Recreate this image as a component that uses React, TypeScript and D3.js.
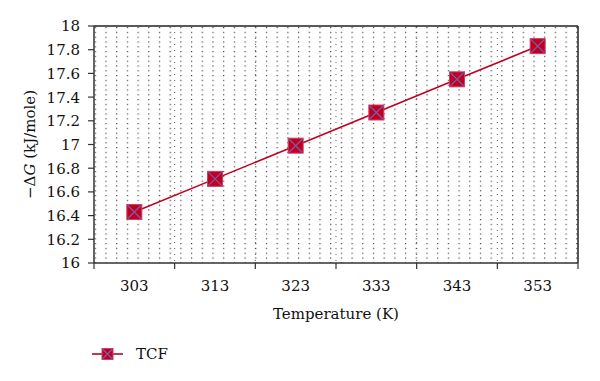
import React from "react";
import * as d3 from "d3";

const categories = ["303", "313", "323", "333", "343", "353"];
const tcfValues = [16.43, 16.71, 16.99, 17.27, 17.55, 17.83];
const yTicks = [16, 16.2, 16.4, 16.6, 16.8, 17, 17.2, 17.4, 17.6, 17.8, 18];
const seriesName = "TCF";

const W = 600;
const H = 381;
const M = { left: 94, right: 22, top: 26, bottom: 118 };

export default function App() {
  const x = d3.scaleBand<string>().domain(categories).range([M.left, W - M.right]).padding(0);
  const y = d3.scaleLinear().domain([16, 18]).range([H - M.bottom, M.top]);
  const line = d3
    .line<number>()
    .x((_, i) => (x(categories[i]) as number) + x.bandwidth() / 2)
    .y((d) => y(d));
  const fontStyle = { fontFamily: '"DejaVu Serif", serif', fontSize: "15px" };
  const red = "#C00020";
  const x0 = M.left;
  const x1 = W - M.right;
  const y0 = H - M.bottom;
  const y1 = M.top;
  const boundaries = [...categories.map((c) => x(c) as number), x1];

  const marker = (cx: number, cy: number, s: number, key?: any) => (
    <g key={key}>
      <rect x={cx - s / 2} y={cy - s / 2} width={s} height={s} fill={red} stroke="#C8406A" strokeWidth={1} />
      <line x1={cx - s / 2 + 1} y1={cy - s / 2 + 1} x2={cx + s / 2 - 1} y2={cy + s / 2 - 1} stroke="#7A5AA8" strokeWidth={1.3} />
      <line x1={cx - s / 2 + 1} y1={cy + s / 2 - 1} x2={cx + s / 2 - 1} y2={cy - s / 2 + 1} stroke="#7A5AA8" strokeWidth={1.3} />
    </g>
  );

  return (
    <svg width={W} height={H} style={{ position: "absolute", left: 0, top: 0, background: "#fff" }}>
      <defs>
        <pattern id="dots" patternUnits="userSpaceOnUse" x={x0 + 0.7} y={y1 + 1} width={10.7} height={4.8}>
          <rect x={0} y={0} width={1.2} height={1.2} fill="#444" />
        </pattern>
      </defs>
      <rect x={x0} y={y1} width={x1 - x0} height={y0 - y1} fill="url(#dots)" />
      {boundaries.slice(1, -1).map((b, i) => (
        <line key={i} x1={b} x2={b} y1={y1} y2={y0} stroke="#333" strokeWidth={0.8} strokeDasharray="1 5" />
      ))}
      <line x1={x0} x2={x1} y1={y1} y2={y1} stroke="#222" strokeWidth={1.5} />
      <line x1={x1} x2={x1} y1={y1} y2={y0} stroke="#222" strokeWidth={1.5} />
      <line x1={x0} x2={x0} y1={y1} y2={y0} stroke="#333" strokeWidth={1.5} />
      <line x1={x0} x2={x1} y1={y0} y2={y0} stroke="#333" strokeWidth={1.5} />
      {yTicks.map((t) => (
        <g key={t}>
          <line x1={x0 - 6} x2={x0} y1={y(t)} y2={y(t)} stroke="#333" strokeWidth={1.2} />
          <text x={x0 - 14} y={y(t)} dy="0.36em" textAnchor="end" style={fontStyle} fill="#111">
            {d3.format("")(+t.toFixed(1))}
          </text>
        </g>
      ))}
      {boundaries.map((b, i) => (
        <line key={i} x1={b} x2={b} y1={y0} y2={y0 + 6} stroke="#333" strokeWidth={1.2} />
      ))}
      {categories.map((c) => (
        <text key={c} x={(x(c) as number) + x.bandwidth() / 2} y={291} textAnchor="middle" style={fontStyle} fill="#111">
          {c}
        </text>
      ))}
      <text x={(x0 + x1) / 2} y={319} textAnchor="middle" style={fontStyle} fill="#111">
        Temperature (K)
      </text>
      <text transform={`translate(35, ${(y0 + y1) / 2}) rotate(-90)`} textAnchor="middle" style={fontStyle} fill="#111">
        −Δ<tspan fontStyle="italic">G</tspan> (kJ/mole)
      </text>
      <path d={line(tcfValues) || ""} fill="none" stroke={red} strokeWidth={1.6} />
      {tcfValues.map((v, i) => marker((x(categories[i]) as number) + x.bandwidth() / 2, y(v), 15, i))}
      <line x1={92} x2={123} y1={354} y2={354} stroke={red} strokeWidth={1.6} />
      {marker(107.5, 354, 11)}
      <text x={136} y={359} style={fontStyle} fill="#111">
        {seriesName}
      </text>
    </svg>
  );
}
